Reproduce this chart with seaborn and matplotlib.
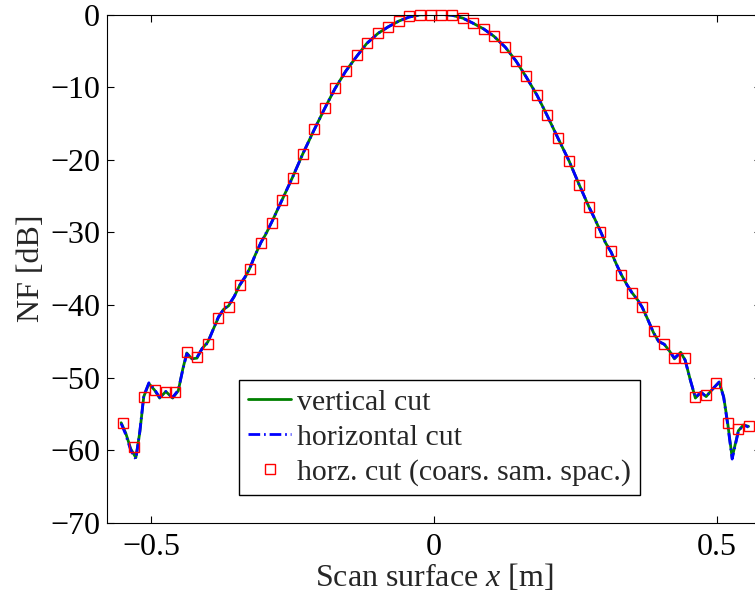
import matplotlib
matplotlib.use("Agg")
import matplotlib.pyplot as plt
import seaborn as sns

# ---------------- data ----------------
x_curve = [-0.553, -0.545, -0.536, -0.527, -0.520, -0.513, -0.504, -0.494, -0.485, -0.474,
           -0.462, -0.452, -0.444, -0.437, -0.428, -0.419, -0.410, -0.400, -0.390, -0.381,
           -0.372, -0.363, -0.353, -0.343, -0.334, -0.326, -0.316, -0.306, -0.297, -0.287,
           -0.278, -0.269, -0.250, -0.232, -0.212, -0.193, -0.175, -0.156, -0.136, -0.119,
           -0.099, -0.081, -0.062, -0.044, -0.025, -0.010, 0.003, 0.016, 0.032, 0.051,
           0.069, 0.088, 0.106, 0.126, 0.145, 0.163, 0.182, 0.200, 0.219, 0.239,
           0.257, 0.274, 0.284, 0.294, 0.303, 0.313, 0.322, 0.331, 0.341, 0.350,
           0.360, 0.368, 0.378, 0.388, 0.397, 0.407, 0.416, 0.425, 0.436, 0.444,
           0.453, 0.462, 0.472, 0.481, 0.492, 0.504, 0.512, 0.519, 0.527, 0.538,
           0.547, 0.556]

nf_vertical = [-56.2, -57.6, -59.8, -61.0, -57.5, -52.6, -50.8, -51.7, -52.8, -51.9,
               -52.8, -51.8, -48.8, -46.6, -47.4, -47.3, -46.0, -45.1, -43.3, -41.7,
               -40.6, -40.1, -38.8, -37.2, -36.2, -35.0, -33.1, -31.4, -30.2, -28.6,
               -27.1, -25.6, -22.4, -19.2, -15.9, -12.9, -10.2, -7.8, -5.7, -4.0,
               -2.6, -1.7, -0.9, -0.35, -0.05, 0.0, 0.0, 0.0, -0.1, -0.5,
               -1.2, -2.0, -3.0, -4.5, -6.4, -8.6, -11.1, -13.9, -17.0, -20.2,
               -23.5, -26.5, -28.1, -29.8, -31.4, -32.7, -34.3, -35.8, -37.2, -38.3,
               -39.3, -40.3, -42.0, -43.8, -45.0, -45.4, -46.3, -47.4, -46.5, -47.6,
               -50.3, -52.8, -52.0, -52.6, -51.6, -50.6, -52.6, -56.2, -61.0, -57.3,
               -56.5, -56.7]

nf_horizontal = [-56.3, -57.8, -60.0, -61.2, -57.4, -52.5, -50.7, -51.6, -52.7, -51.9,
                 -52.7, -51.7, -48.9, -46.7, -47.4, -47.2, -46.0, -45.2, -43.3, -41.6,
                 -40.6, -40.0, -38.8, -37.2, -36.1, -35.0, -33.1, -31.4, -30.1, -28.6,
                 -27.1, -25.6, -22.4, -19.2, -15.9, -12.9, -10.2, -7.8, -5.7, -4.0,
                 -2.6, -1.7, -0.9, -0.35, -0.05, 0.0, 0.0, 0.0, -0.1, -0.5,
                 -1.2, -2.0, -3.0, -4.5, -6.4, -8.6, -11.1, -13.9, -17.0, -20.2,
                 -23.5, -26.5, -28.1, -29.8, -31.4, -32.7, -34.3, -35.8, -37.2, -38.3,
                 -39.3, -40.3, -42.0, -43.8, -45.0, -45.4, -46.3, -47.3, -46.5, -47.6,
                 -50.3, -52.7, -52.0, -52.6, -51.6, -50.6, -52.7, -56.4, -61.2, -57.4,
                 -56.5, -56.8]

x_coarse = [-0.550, -0.531, -0.513, -0.494, -0.474, -0.457, -0.437, -0.419, -0.400, -0.381,
            -0.363, -0.343, -0.326, -0.306, -0.287, -0.269, -0.250, -0.232, -0.212, -0.193,
            -0.175, -0.156, -0.136, -0.119, -0.099, -0.081, -0.062, -0.044, -0.025, -0.005,
            0.012, 0.032, 0.051, 0.069, 0.088, 0.106, 0.126, 0.145, 0.163, 0.182,
            0.200, 0.219, 0.239, 0.257, 0.274, 0.294, 0.313, 0.331, 0.350, 0.368,
            0.388, 0.407, 0.425, 0.444, 0.462, 0.481, 0.499, 0.519, 0.538, 0.556]

nf_coarse = [-56.3, -59.6, -52.6, -51.7, -51.9, -52.0, -46.5, -47.1, -45.3, -41.8,
             -40.2, -37.3, -35.1, -31.5, -28.7, -25.6, -22.5, -19.2, -15.8, -12.9,
             -10.1, -7.8, -5.6, -3.9, -2.5, -1.7, -0.9, -0.2, 0.0, 0.0,
             0.0, 0.0, -0.5, -1.2, -2.0, -3.0, -4.5, -6.4, -8.5, -11.1,
             -13.9, -17.0, -20.2, -23.5, -26.5, -29.9, -32.6, -35.9, -38.4, -40.3,
             -43.6, -45.3, -47.3, -47.3, -52.7, -52.4, -50.7, -56.2, -57.0, -56.7]

x_ticks = [-0.5, 0.0, 0.5]
x_tick_labels = ["\u22120.5", "0", "0.5"]
y_ticks = [0, -10, -20, -30, -40, -50, -60, -70]
y_tick_labels = ["0", "\u221210", "\u221220", "\u221230", "\u221240", "\u221250", "\u221260", "\u221270"]

series_labels = ["vertical cut", "horizontal cut", "horz. cut (coars. sam. spac.)"]

assert len(x_curve) == len(nf_vertical) == len(nf_horizontal)
assert len(x_coarse) == len(nf_coarse)

# ---------------- style ----------------
sns.set_theme(style="white")
plt.rcParams["font.family"] = ["Liberation Serif", "DejaVu Serif"]
plt.rcParams["mathtext.fontset"] = "custom"
plt.rcParams["mathtext.rm"] = "Liberation Serif"
plt.rcParams["mathtext.it"] = "Liberation Serif:italic"

W, H = 755, 600
fig = plt.figure(figsize=(W / 100, H / 100), dpi=100)
left_px, right_px, top_px, bottom_px = 107, 761, 14.5, 523
ax = fig.add_axes([left_px / W, 1 - bottom_px / H,
                   (right_px - left_px) / W, (bottom_px - top_px) / H])

sns.lineplot(x=x_curve, y=nf_vertical, ax=ax, color=(0, 0.5, 0), linewidth=2.0,
             sort=False, estimator=None, label=series_labels[0])
sns.lineplot(x=x_curve, y=nf_horizontal, ax=ax, color=(0, 0, 1), linewidth=2.0,
             sort=False, estimator=None, label=series_labels[1])
sns.lineplot(x=x_coarse, y=nf_coarse, ax=ax, color=(1, 0, 0), linestyle="none",
             marker="s", markersize=7, markerfacecolor="none", markeredgecolor=(1, 0, 0),
             markeredgewidth=1.0, sort=False, estimator=None, label=series_labels[2],
             clip_on=False)

lines = ax.get_lines()
lines[1].set_linestyle((0, (4.2, 1.4, 0.6, 1.4)))

ax.set_xlim(-0.578, 0.578)
ax.set_ylim(-70, 0)
ax.set_xticks(x_ticks)
ax.set_xticklabels(x_tick_labels)
ax.set_yticks(y_ticks)
ax.set_yticklabels(y_tick_labels)

for sp in ax.spines.values():
    sp.set_color("black")
    sp.set_linewidth(0.8)
ax.tick_params(axis="both", which="both", direction="in", length=5, width=0.8,
               colors="black", labelsize=23, top=True, right=True,
               bottom=True, left=True)
ax.tick_params(axis="x", pad=7)
ax.tick_params(axis="y", pad=5)

ax.set_xlabel("Scan surface $x$ [m]", fontsize=23, labelpad=0)
ax.set_ylabel("NF [dB]", fontsize=23, labelpad=3)

handles = ax.get_lines()[:3]
if ax.get_legend() is not None:
    ax.get_legend().remove()
leg = ax.legend(handles, series_labels, loc="upper left",
                bbox_to_anchor=(239 / W, 1 - 380 / H), bbox_transform=fig.transFigure,
                fontsize=21.5, frameon=True, fancybox=False, framealpha=1,
                edgecolor="black", borderaxespad=0, handlelength=1.45,
                handletextpad=0.2, labelspacing=0.27, borderpad=0.3, numpoints=1)
leg.get_frame().set_linewidth(1.0)

fig.savefig("out.png", dpi=100, facecolor="white")
